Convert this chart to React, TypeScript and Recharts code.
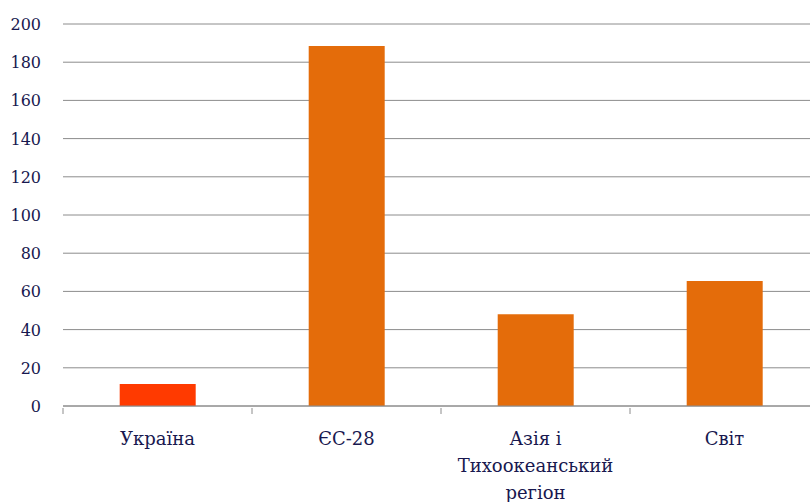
import { BarChart, Bar, Cell, CartesianGrid, XAxis, YAxis } from "recharts";

const categories = ["Україна", "ЄС-28", "Азія і Тихоокеанський регіон", "Світ"];
const values = [11.5, 188.5, 48, 65.5];
const barColors = ["#FF3A00", "#E46C0A", "#E46C0A", "#E46C0A"];
const yTicks = [0, 20, 40, 60, 80, 100, 120, 140, 160, 180, 200];

// long label gets split by hand, like the original
const labelLines: Record<string, string[]> = {
  "Азія і Тихоокеанський регіон": ["Азія і", "Тихоокеанський", "регіон"],
};

const data = categories.map((name, i) => ({ name, value: values[i] }));

const FONT = "'DejaVu Serif', 'Liberation Serif', serif";
const TEXT = "#18184F";
const GRID = "#8C8C8C";
const BAND = (819 - 63) / categories.length;

function CategoryTick(props: any) {
  const { x, y, payload } = props;
  const lines = labelLines[payload.value] ?? [payload.value];
  const left = x - BAND / 2;
  return (
    <g>
      <line x1={left} y1={y - 6} x2={left} y2={y} stroke={GRID} />
      <text x={x} y={y + 31} textAnchor="middle" fill={TEXT} style={{ fontFamily: FONT, fontSize: 18 }}>
        {lines.map((l: string, i: number) => (
          <tspan key={i} x={x} dy={i === 0 ? 0 : 27}>
            {l}
          </tspan>
        ))}
      </text>
    </g>
  );
}

function ValueTick(props: any) {
  const { x, y, payload } = props;
  return (
    <text x={x} y={y + 6} textAnchor="end" fill={TEXT} style={{ fontFamily: FONT, fontSize: 16 }}>
      {payload.value}
    </text>
  );
}

export default function App() {
  return (
    <div
      style={{
        position: "absolute",
        top: 0,
        left: 0,
        width: 810,
        height: 502,
        overflow: "hidden",
        background: "#fff",
      }}
    >
      <BarChart
        width={819}
        height={502}
        data={data}
        margin={{ top: 24, right: 0, left: 0, bottom: 0 }}
        barCategoryGap="30%"
      >
        <CartesianGrid stroke={GRID} vertical={false} />
        <XAxis
          dataKey="name"
          height={96}
          interval={0}
          tickLine={false}
          axisLine={{ stroke: GRID }}
          tick={<CategoryTick />}
        />
        <YAxis
          width={63}
          domain={[0, 200]}
          ticks={yTicks}
          axisLine={false}
          tickLine={false}
          tickSize={0}
          tickMargin={22}
          tick={<ValueTick />}
        />
        <Bar dataKey="value" isAnimationActive={false}>
          {data.map((_, i) => (
            <Cell key={i} fill={barColors[i]} />
          ))}
        </Bar>
      </BarChart>
    </div>
  );
}
